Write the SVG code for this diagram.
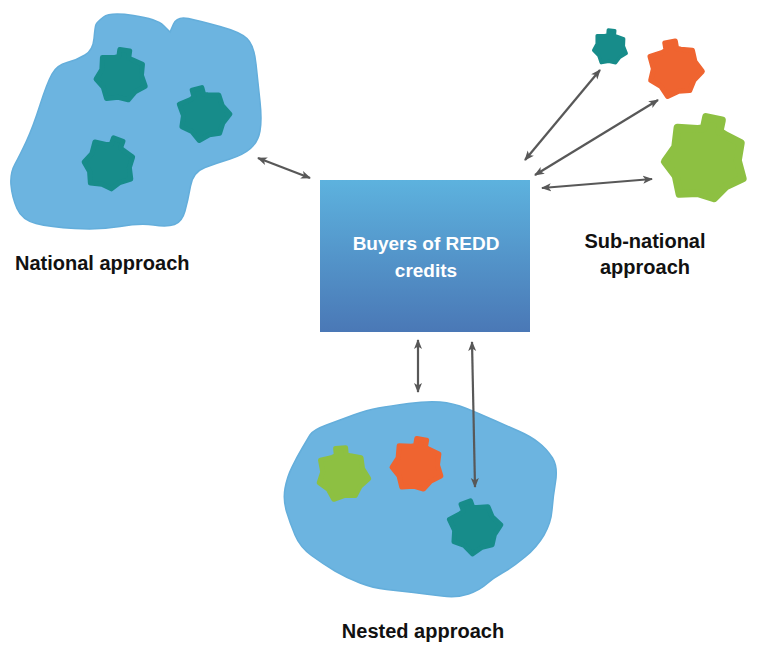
<svg xmlns="http://www.w3.org/2000/svg" xmlns:xlink="http://www.w3.org/1999/xlink" width="757" height="645" viewBox="0 0 757 645">
<style>
.land{fill:#6cb4e0;stroke:#64aedb;stroke-width:1.5}
.cog{stroke-width:5;stroke-linejoin:round}
.teal{fill:#178c8a;stroke:#178c8a}
.orange{fill:#ef6430;stroke:#ef6430}
.green{fill:#8dc042;stroke:#8dc042}
.conn{stroke:#585858;stroke-width:2.2;fill:none;marker-start:url(#ah);marker-end:url(#ah)}
.lbl{font-family:"Liberation Sans",Arial,sans-serif;font-weight:bold;font-size:20px;fill:#111}
.boxtxt{font-family:"Liberation Sans",Arial,sans-serif;font-weight:bold;font-size:19px;fill:#fff}
</style>
<defs>
<linearGradient id="bg" x1="0" y1="0" x2="0" y2="1">
<stop offset="0" stop-color="#5db2de"/>
<stop offset="1" stop-color="#4a78b6"/>
</linearGradient>
<marker id="ah" viewBox="0 0 10 10" refX="9" refY="5" markerWidth="10" markerHeight="10" markerUnits="userSpaceOnUse" orient="auto-start-reverse">
<path d="M0,1 L10,5 L0,9 L2.5,5 Z" fill="#585858"/>
</marker>
<path id="cog" d="M-5,-27 L5,-27 L5,-20 L8.9,-18.5 L19.5,-15.6 L20,-4.6 L25.3,5.8 L16,12.8 L10.4,21.6 L0,20.5 L-11.3,23.4 L-16,12.8 L-24.4,5.6 L-20,-4.6 L-21.1,-16.8 L-8.9,-18.5 L-5,-20 Z"/>
</defs>

<g id="national">
<path class="land" d="M96,24.5 Q97,22 103.5,17 Q110,12 133.5,15.5 Q157,19 163.5,25.5 L170,32 L173.5,24 Q177,16 188.5,18.5 Q200,21 220,26.5 Q240,32 247,38.5 Q254,45 256,64 Q258,83 260,101.5 Q262,120 260,131 Q258,142 250.5,148.5 Q243,155 230,159 Q217,163 205,167.5 Q193,172 190.5,186 Q188,200 185,211 Q182,222 174.5,224.5 Q167,227 153.5,225 Q140,223 120,226.5 Q100,230 75,228.5 Q50,227 36,223.5 Q22,220 17,208.5 Q12,197 11,185 Q10,173 15,164 Q20,155 26.5,141 Q33,127 40,105 Q47,83 52,74 Q57,65 67,62.5 Q77,60 85,55 Q93,50 94,38.5 Q95,27 96,24.5 Z"/>
<use xlink:href="#cog" class="cog teal" transform="translate(121,77) rotate(8)"/>
<use xlink:href="#cog" class="cog teal" transform="translate(204,115) rotate(-15)"/>
<use xlink:href="#cog" class="cog teal" transform="translate(109,165) rotate(20)"/>
<text class="lbl" x="15" y="270">National approach</text>
</g>

<g id="buyers">
<rect x="320" y="180" width="210" height="152" fill="url(#bg)"/>
<text class="boxtxt" x="426" y="250" text-anchor="middle">Buyers of REDD</text>
<text class="boxtxt" x="426" y="277" text-anchor="middle">credits</text>
</g>

<g id="subnational">
<use xlink:href="#cog" class="cog teal" transform="translate(610,48) scale(0.66) rotate(5)"/>
<use xlink:href="#cog" class="cog orange" transform="translate(675,70) scale(1.05) rotate(-10)"/>
<use xlink:href="#cog" class="cog green" transform="translate(705,161) scale(1.6) rotate(12)"/>
<text class="lbl" x="645" y="248" text-anchor="middle">Sub-national</text>
<text class="lbl" x="645" y="274" text-anchor="middle">approach</text>
</g>

<g id="nested">
<path class="land" d="M310,435 Q313,430 326.5,425 Q340,420 353.5,415 Q367,410 378.5,408 Q390,406 408.5,403.5 Q427,401 440,402 Q453,403 466.5,408.5 Q480,414 493.5,420 Q507,426 518.5,431 Q530,436 538.5,442.5 Q547,449 552.5,458 Q558,467 555.5,482 Q553,497 552,510 Q551,523 544,535 Q537,547 525,557 Q513,567 503,572.5 Q493,578 486.5,584 Q480,590 468.5,594 Q457,598 442,596 Q427,594 413.5,592.5 Q400,591 386.5,589.5 Q373,588 360,583 Q347,578 335,571 Q323,564 311.5,555.5 Q300,547 295,535 Q290,523 286.5,511.5 Q283,500 285,488.5 Q287,477 292,467 Q297,457 302,448.5 Q307,440 310,435 Z"/>
<use xlink:href="#cog" class="cog green" transform="translate(343,475) rotate(-5)"/>
<use xlink:href="#cog" class="cog orange" transform="translate(417,466) rotate(10)"/>
<use xlink:href="#cog" class="cog teal" transform="translate(475,528) rotate(-20)"/>
<text class="lbl" x="423" y="638" text-anchor="middle">Nested approach</text>
</g>

<g id="connectors">
<line class="conn" x1="258" y1="158" x2="310" y2="178"/>
<line class="conn" x1="525" y1="160" x2="600" y2="70"/>
<line class="conn" x1="535" y1="175" x2="658" y2="100"/>
<line class="conn" x1="542" y1="188" x2="652" y2="179"/>
<line class="conn" x1="418" y1="340" x2="418" y2="392"/>
<line class="conn" x1="472" y1="342" x2="475" y2="487"/>
</g>
</svg>
